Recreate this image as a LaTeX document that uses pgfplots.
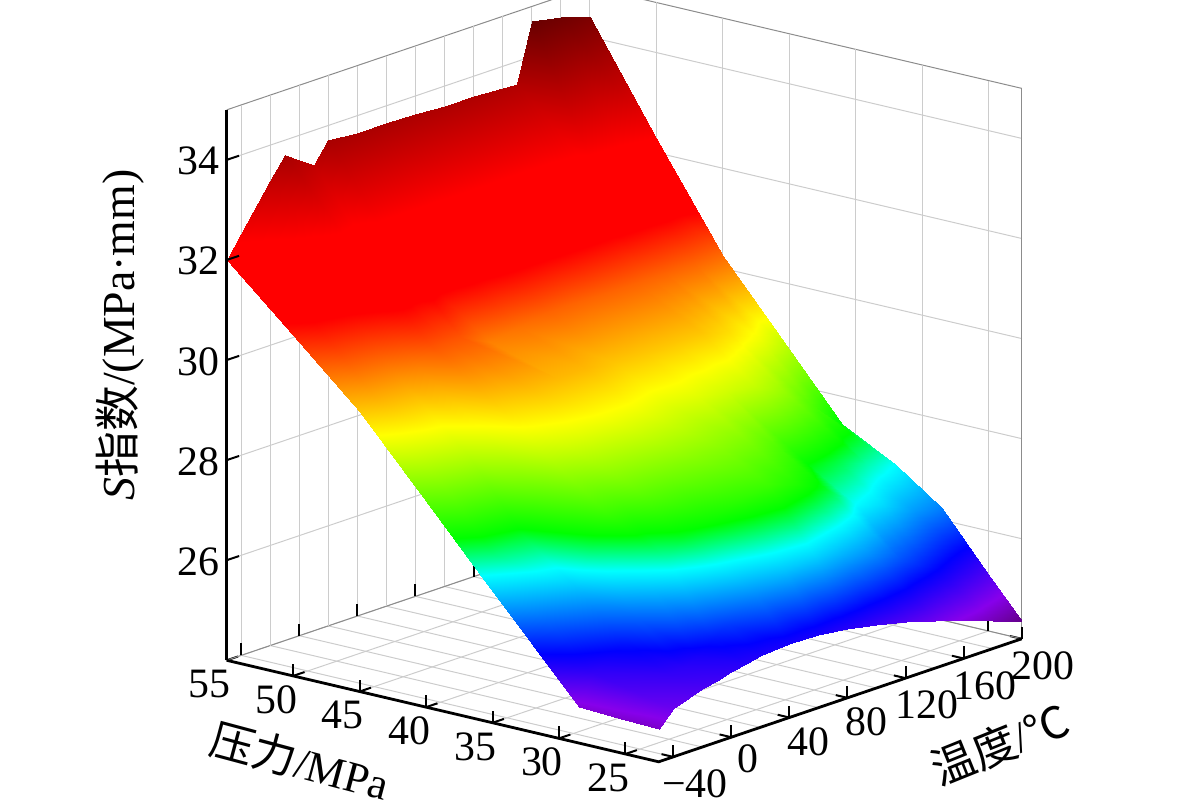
\documentclass[border=0pt]{standalone}
\usepackage{fontspec}
\setmainfont{Liberation Serif}
\newfontfamily\cjk{Noto Sans CJK SC}
\usepackage{pgfplots}
\usepackage{pgfplotstable}
\pgfplotsset{compat=1.18}
\pgfplotsset{
  colormap={rainbowz}{rgb255(0pt)=(95,0,125) rgb255(5pt)=(135,0,235) rgb255(13pt)=(0,0,255) rgb255(26pt)=(0,255,255) rgb255(32pt)=(0,255,0) rgb255(49pt)=(255,255,0) rgb255(67pt)=(255,0,0) rgb255(80pt)=(255,0,0) rgb255(105pt)=(100,0,0)}
}
\pgfplotstableread{
T p z
-50 22.5 24.65
-40 22.5 24.96
-20 22.5 25.15
-10 22.5 25.22
0 22.5 25.30
10 22.5 25.37
20 22.5 25.42
40 22.5 25.47
60 22.5 25.45
80 22.5 25.37
100 22.5 25.25
120 22.5 25.12
140 22.5 24.95
150 22.5 24.86
160 22.5 24.76
180 22.5 24.56
200 22.5 24.35
-50 25 24.67
-40 25 25.10
-20 25 25.30
-10 25 25.35
0 25 25.45
10 25 25.70
20 25 25.90
40 25 26.30
60 25 26.60
80 25 26.70
100 25 26.50
120 25 26.30
140 25 26.00
150 25 25.85
160 25 25.70
180 25 25.40
200 25 25.14
-50 28.5 24.72
-40 28.5 25.30
-20 28.5 25.70
-10 28.5 26.10
0 28.5 26.60
10 28.5 27.10
20 28.5 27.40
40 28.5 27.60
60 28.5 27.80
80 28.5 27.90
100 28.5 27.70
120 28.5 27.40
140 28.5 26.90
150 28.5 26.80
160 28.5 26.70
180 28.5 26.40
200 28.5 26.24
-50 32 25.76
-40 32 26.10
-20 32 26.60
-10 32 27.30
0 32 27.90
10 32 28.00
20 32 28.20
40 32 28.30
60 32 28.40
80 32 28.40
100 32 28.30
120 32 28.00
140 32 27.50
150 32 27.42
160 32 27.35
180 32 27.10
200 32 26.90
-50 36 26.94
-40 36 27.20
-20 36 27.40
-10 36 28.10
0 36 28.70
10 36 28.90
20 36 29.00
40 36 29.10
60 36 29.10
80 36 29.00
100 36 29.00
120 36 28.90
140 36 28.80
150 36 28.65
160 36 28.50
180 36 28.00
200 36 27.45
-50 40 28.11
-40 40 28.40
-20 40 28.70
-10 40 29.10
0 40 29.50
10 40 29.60
20 40 29.70
40 40 29.70
60 40 29.70
80 40 29.60
100 40 29.60
120 40 29.60
140 40 29.60
150 40 29.50
160 40 29.40
180 40 29.10
200 40 28.69
-50 45 29.58
-40 45 29.80
-20 45 29.90
-10 45 30.10
0 45 30.40
10 45 30.40
20 45 30.40
40 45 30.10
60 45 30.20
80 45 30.30
100 45 30.30
120 45 30.30
140 45 30.30
150 45 30.30
160 45 30.30
180 45 30.30
200 45 30.24
-50 50 30.82
-40 50 31.10
-20 50 31.30
-10 50 31.50
0 50 31.70
10 50 31.60
20 50 31.80
40 50 31.80
60 50 31.80
80 50 31.80
100 50 31.80
120 50 31.80
140 50 31.80
150 50 31.85
160 50 31.90
180 50 32.00
200 50 32.30
-50 55 32.00
-40 55 32.43
-20 55 33.28
-10 55 33.70
0 55 33.50
10 55 33.30
20 55 33.70
40 55 33.66
60 55 33.65
80 55 33.63
100 55 33.60
120 55 33.60
140 55 33.57
150 55 33.56
160 55 34.72
180 55 34.60
200 55 34.40
}\surfdata
\begin{document}
\begin{tikzpicture}
\begin{axis}[
  x={(0.726bp,0.246bp)}, y={(-6.646bp,1.5615bp)}, z={(0bp,25.02bp)},
  xmin=-50, xmax=200, ymin=22.5, ymax=55, zmin=24, zmax=35,
  xtick={-40,0,40,80,120,160,200},
  xticklabels={−40,0,40,80,120,160,200},
  ytick={25,30,35,40,45,50,55},
  yticklabels={25,30,35,40,45,50,55},
  ztick={26,28,30,32,34},
  zticklabels={26,28,30,32,34},
  tick pos=left,
  minor x tick num=1,
  xmajorgrids=true, xminorgrids=true, ymajorgrids=true, zmajorgrids=true,
  major grid style={black!20, line width=0.5bp},
  minor grid style={black!20, line width=0.5bp},
  axis line style={black!45, line width=0.5bp},
  tick style={black, line width=1bp},
  ztick style={draw=none},
  major tick length=6bp, minor tick length=0pt,
  ticklabel style={font=\fontsize{21}{24}\selectfont},
  colormap name=rainbowz, point meta min=24.3, point meta max=34.8,
  clip=false,
]
\addplot3[surf, shader=interp, point meta=z, mesh/cols=17] table[x=T, y=p, z=z] {\surfdata};
\coordinate (B) at (axis cs:-50,22.5,24);
\draw[black, line width=1.4bp] (axis cs:-50,55,24) -- (axis cs:-50,22.5,24) -- (axis cs:200,22.5,24);
\draw[black, line width=1.4bp] (axis cs:-50,55,24) -- (axis cs:-50,55,35);
\pgfplotsinvokeforeach{26,28,30,32,34}{
  \draw[black, line width=1bp] (axis cs:-50,55,#1) -- (axis cs:-41.5,55,#1);
}
\end{axis}
\pgfresetboundingbox
\path[use as bounding box] (B) ++(-329.35bp,-25.1bp) rectangle ++(590.5bp,406bp);
\path (B) ++(-179.35bp,0.4bp) node[rotate=-15, font=\fontsize{22}{26}\selectfont] {{\cjk 压力}/MPa};
\path (B) ++(170.65bp,8.9bp) node[rotate=22, font=\fontsize{22}{26}\selectfont] {{\cjk 温度}/{\cjk ℃}};
\path (B) ++(-269.35bp,213.4bp) node[rotate=90, font=\fontsize{23}{27}\selectfont] {\textit{S}{\cjk 指数}/(MPa·mm)};
\end{tikzpicture}
\end{document}
